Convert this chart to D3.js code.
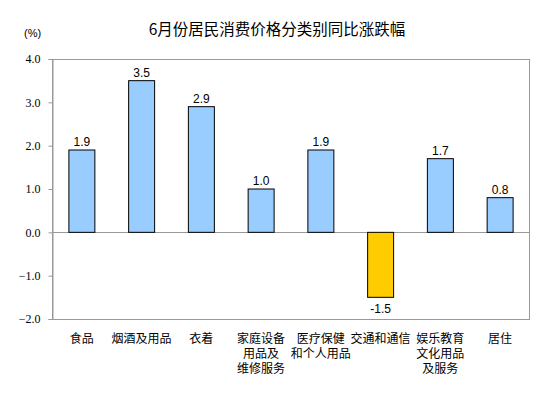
<!DOCTYPE html>
<html><head><meta charset="utf-8">
<script src="https://cdn.jsdelivr.net/npm/d3@7/dist/d3.min.js"></script>
<style>body{margin:0;background:#fff}</style>
</head><body>
<script>
const categories = ["食品","烟酒及用品","衣着","家庭设备|用品及|维修服务","医疗保健|和个人用品","交通和通信","娱乐教育|文化用品|及服务","居住"];
const values = [1.9, 3.5, 2.9, 1.0, 1.9, -1.5, 1.7, 0.8];
const tickValues = [4.0, 3.0, 2.0, 1.0, 0.0, -1.0, -2.0];
const title = "6月份居民消费价格分类别同比涨跌幅";

const W = 553, H = 398;
const L = 52, R = 530, T = 59, B = 319;
const svg = d3.select("body").append("svg").attr("width", W).attr("height", H);
const x = d3.scaleBand().domain(categories).range([L, R]).paddingInner(0.565).paddingOuter(0.2825);
const y = d3.scaleLinear().domain([-2, 4]).range([B, T]);
const cjk = "'Noto Sans CJK SC', sans-serif";

svg.append("text").attr("x", 277).attr("y", 35).attr("text-anchor", "middle")
  .style("font-family", cjk).style("font-size", "15.5px").text(title);
svg.append("text").attr("x", 24).attr("y", 37)
  .style("font-family", "'Liberation Sans', Arial").style("font-size", "11px").text("(%)");

// frame
svg.append("rect").attr("x", L + 0.5).attr("y", T + 0.5).attr("width", R - L - 1).attr("height", B - T)
  .attr("fill", "none").attr("stroke", "#999");

const yAxis = d3.axisLeft(y).tickValues(tickValues).tickFormat(d3.format(".1f")).tickSize(4).tickPadding(8);
const ga = svg.append("g").attr("transform", `translate(${L + 0.5},0)`).call(yAxis);
ga.select(".domain").attr("stroke", "#999");
ga.selectAll(".tick line").attr("stroke", "#999");
ga.selectAll(".tick text").style("font-family", "'Liberation Serif', 'Times New Roman', serif")
  .style("font-size", "12px").attr("fill", "#000");

// zero line
svg.append("line").attr("x1", L).attr("x2", R).attr("y1", Math.round(y(0)) + 0.5).attr("y2", Math.round(y(0)) + 0.5)
  .attr("stroke", "#999");

svg.selectAll("rect.bar").data(values).enter().append("rect").attr("class", "bar")
  .attr("x", (d, i) => x(categories[i]))
  .attr("width", x.bandwidth())
  .attr("y", d => y(Math.max(0, d)))
  .attr("height", d => Math.abs(y(d) - y(0)))
  .attr("fill", d => d < 0 ? "#FFCC00" : "#99CCFF")
  .attr("stroke", "#000").attr("stroke-width", 1);

svg.selectAll("text.val").data(values).enter().append("text").attr("class", "val")
  .attr("x", (d, i) => x(categories[i]) + x.bandwidth() / 2)
  .attr("y", d => d < 0 ? y(d) + 16 : y(d) - 4)
  .attr("text-anchor", "middle")
  .style("font-family", "'Liberation Sans', Arial").style("font-size", "12px")
  .text(d => d3.format(".1f")(d).replace("−", "-"));

categories.forEach((c, i) => {
  const lines = c.split("|");
  lines.forEach((ln, j) => {
    svg.append("text").attr("text-anchor", "middle")
      .style("font-family", cjk).style("font-size", "12px")
      .attr("x", x(c) + x.bandwidth() / 2).attr("y", 343 + j * 15).text(ln);
  });
});
</script>
</body></html>
